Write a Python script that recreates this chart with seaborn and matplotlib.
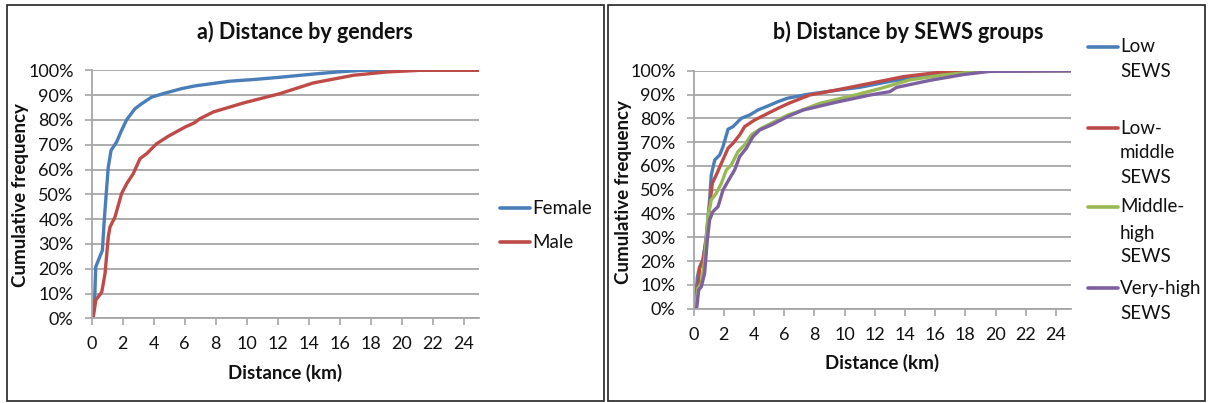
import numpy as np
import pandas as pd
import matplotlib
matplotlib.use("Agg")
import matplotlib.pyplot as plt
import seaborn as sns
from matplotlib.lines import Line2D
from matplotlib.patches import Rectangle

# ---------------- data ----------------
female_km = [0.0, 0.05, 0.17, 0.26, 0.43, 0.69, 0.81, 0.97, 1.07, 1.25, 1.61, 1.93, 2.26, 2.79,
             3.22, 3.87, 4.73, 5.8, 6.66, 8.9, 10.5, 12.15, 13.5, 14.7, 16.0, 17.5, 25.0]
female_pct = [0, 0.5, 3.9, 20.7, 23.4, 27.4, 39.5, 52.9, 61.0, 67.7, 71.1, 75.8, 80.1, 84.5,
              86.5, 89.2, 90.8, 92.6, 93.7, 95.6, 96.3, 97.2, 98.0, 98.7, 99.4, 100, 100]

male_km = [0.0, 0.1, 0.26, 0.65, 0.86, 1.07, 1.18, 1.5, 1.93, 2.26, 2.68, 3.12, 3.55, 4.19,
           4.94, 6.02, 6.62, 6.99, 7.85, 9.78, 12.15, 14.3, 16.9, 19.0, 21.2, 25.0]
male_pct = [0, 0.5, 7.3, 10.6, 18.0, 32.8, 36.8, 40.8, 50.3, 54.3, 58.3, 64.4, 66.4, 70.4,
            73.4, 77.1, 78.8, 80.5, 83.2, 86.8, 90.6, 94.9, 98.0, 99.3, 100, 100]

low_km = [0, 0.1, 0.25, 0.4, 0.62, 0.84, 1.06, 1.17, 1.4, 1.73, 1.95, 2.28, 2.61, 3.16, 3.72,
          4.26, 4.93, 5.59, 6.2, 7.49, 9.48, 11.0, 13.0, 15.0, 17.2, 19.2, 25]
low_pct = [0, 0, 13.4, 17.6, 20.5, 30.3, 45.7, 56.2, 62.5, 64.6, 68.1, 75.4, 76.5, 80.0, 81.4,
           83.5, 85.2, 87.0, 88.4, 90.0, 91.8, 93.0, 95.5, 97.5, 99.2, 100, 100]

lowmid_km = [0, 0.1, 0.29, 0.4, 0.62, 0.84, 1.06, 1.24, 1.5, 1.84, 2.28, 2.61, 3.05, 3.38, 4.05,
             4.93, 5.59, 6.3, 7.7, 9.48, 11.7, 13.9, 16.1, 18.3, 25]
lowmid_pct = [0, 0, 9.2, 17.0, 20.5, 28.9, 42.9, 52.7, 56.2, 61.1, 67.4, 69.5, 73.0, 76.5, 79.3,
              82.1, 84.2, 86.3, 89.8, 91.9, 94.7, 97.5, 99.2, 100, 100]

midhigh_km = [0, 0.1, 0.29, 0.51, 0.73, 0.95, 1.17, 1.5, 1.84, 2.17, 2.5, 2.94, 3.38, 3.82, 4.48,
              5.37, 6.25, 6.83, 8.37, 10.6, 12.3, 14.3, 16.5, 18.7, 20.0, 25]
midhigh_pct = [0, 0, 8.6, 10.7, 20.5, 38.7, 45.7, 48.5, 52.7, 58.3, 60.4, 66.0, 68.8, 73.0, 75.8,
               78.6, 81.4, 82.6, 86.3, 89.6, 92.4, 96.1, 98.2, 99.6, 100, 100]

veryhigh_km = [0, 0.2, 0.34, 0.51, 0.73, 0.91, 1.06, 1.28, 1.62, 1.95, 2.39, 2.72, 3.05, 3.49,
               3.93, 4.38, 5.15, 6.25, 7.27, 9.48, 11.7, 13.0, 13.45, 15.7, 17.9, 19.6, 25]
veryhigh_pct = [0, 0, 7.9, 9.2, 14.9, 28.9, 37.3, 40.8, 42.9, 49.9, 54.8, 58.3, 63.9, 67.4,
                72.3, 75.1, 77.2, 80.8, 83.5, 86.8, 89.8, 91.2, 93.0, 96.0, 98.4, 99.7, 100]

gender_labels = ["Female", "Male"]
sews_labels = ["Low\nSEWS", "Low-\nmiddle\nSEWS", "Middle-\nhigh\nSEWS", "Very-high\nSEWS"]
x_ticks = list(range(0, 25, 2))
y_ticks = list(range(0, 101, 10))

# ---------------- style ----------------
sns.set_theme(style="white")
plt.rcParams["font.family"] = ["Lato", "DejaVu Sans"]

blue, red, green, purple = "#4A7EBB", "#BE4B48", "#98B954", "#7D60A0"
grid_c = "#A6A6A6"
text_c = "#111111"

W, H = 1208, 403
fig = plt.figure(figsize=(W / 100, H / 100), dpi=100)
fig.patch.set_facecolor("white")


def fx(px):
    return px / W


def fy(py):
    return 1 - py / H


def make_axes(x0, x1, y_top, y_bot):
    return fig.add_axes([fx(x0), fy(y_bot), fx(x1) - fx(x0), fy(y_top) - fy(y_bot)])


axL = make_axes(91.7, 479, 70.3, 318.3)
axR = make_axes(693.6, 1071, 70.7, 308.7)

dfL = pd.concat([
    pd.DataFrame({"km": female_km, "pct": female_pct, "group": gender_labels[0]}),
    pd.DataFrame({"km": male_km, "pct": male_pct, "group": gender_labels[1]}),
])
dfR = pd.concat([
    pd.DataFrame({"km": low_km, "pct": low_pct, "group": sews_labels[0]}),
    pd.DataFrame({"km": lowmid_km, "pct": lowmid_pct, "group": sews_labels[1]}),
    pd.DataFrame({"km": midhigh_km, "pct": midhigh_pct, "group": sews_labels[2]}),
    pd.DataFrame({"km": veryhigh_km, "pct": veryhigh_pct, "group": sews_labels[3]}),
])

sns.lineplot(data=dfL, x="km", y="pct", hue="group", hue_order=gender_labels,
             palette=[blue, red], sort=False, estimator=None, linewidth=2.4,
             legend=False, ax=axL)
sns.lineplot(data=dfR, x="km", y="pct", hue="group", hue_order=sews_labels,
             palette=[blue, red, green, purple], sort=False, estimator=None, linewidth=2.4,
             legend=False, ax=axR)

for ax in (axL, axR):
    ax.set_xlim(0, 25)
    ax.set_ylim(0, 100)
    ax.set_xticks(x_ticks)
    ax.set_yticks(y_ticks)
    ax.set_yticklabels([f"{v}%" for v in y_ticks])
    ax.set_xticklabels([str(v) for v in x_ticks])
    ax.yaxis.grid(True, color=grid_c, linewidth=1.3)
    ax.xaxis.grid(False)
    ax.set_axisbelow(True)
    for s in ("top", "right"):
        ax.spines[s].set_visible(False)
    for s in ("left", "bottom"):
        ax.spines[s].set_color(grid_c)
        ax.spines[s].set_linewidth(1.3)
    ax.tick_params(axis="both", which="major", direction="out", length=5,
                   width=1.2, color=grid_c, labelsize=13, labelcolor=text_c,
                   bottom=True, left=True)
    ax.tick_params(axis="x", pad=8)
    ax.tick_params(axis="y", pad=8)
    ax.set_facecolor("white")

for ax in (axL, axR):
    ax.set_xlabel("Distance (km)", fontsize=13.5, fontweight="bold", color=text_c)
    ax.set_ylabel("Cumulative frequency", fontsize=13.5, fontweight="bold", color=text_c)

axL.xaxis.set_label_coords((285 - 91.7) / (479 - 91.7), (318.3 - 373) / 248)
axL.yaxis.set_label_coords((21 - 91.7) / (479 - 91.7), (318.3 - 195) / 248)
axR.xaxis.set_label_coords((882 - 693.6) / (1071 - 693.6), (308.7 - 363) / 238)
axR.yaxis.set_label_coords((623 - 693.6) / (1071 - 693.6), (308.7 - 192) / 238)
for ax in (axL, axR):
    ax.xaxis.label.set_va("center")
    ax.yaxis.label.set_va("center")

# titles
fig.text(fx(305), fy(32), "a) Distance by genders", ha="center", va="center",
         fontsize=15.5, fontweight="bold", color=text_c)
fig.text(fx(908), fy(32), "b) Distance by SEWS groups", ha="center", va="center",
         fontsize=15.5, fontweight="bold", color=text_c)

# legends (drawn manually, Excel-style with handle on first text line)
def legend_entry(x0, x1, xt, ys, color, lines):
    fig.add_artist(Line2D([fx(x0), fx(x1)], [fy(ys[0]), fy(ys[0])], color=color,
                          linewidth=2.6, transform=fig.transFigure))
    for y, t in zip(ys, lines):
        fig.text(fx(xt), fy(y), t, ha="left", va="center", fontsize=13.5, color=text_c)


legend_entry(500, 530, 532, [208], blue, [gender_labels[0]])
legend_entry(500, 530, 532, [242], red, [gender_labels[1]])

sews_rows = [[46.7, 71.7], [128.3, 152.7, 177.7], [206.7, 233.3, 256.7], [288.3, 313.3]]
for lab, rows, col in zip(sews_labels, sews_rows, [blue, red, green, purple]):
    legend_entry(1088, 1118, 1120, rows, col, lab.split("\n"))

# panel frames
fig.add_artist(Rectangle((fx(7), fy(401)), fx(604) - fx(7), fy(5) - fy(401),
                         fill=False, edgecolor="#222222", linewidth=1.2,
                         transform=fig.transFigure))
fig.add_artist(Rectangle((fx(608), fy(401)), fx(1205) - fx(608), fy(5) - fy(401),
                         fill=False, edgecolor="#222222", linewidth=1.2,
                         transform=fig.transFigure))

fig.savefig("out.png", dpi=100, facecolor="white")
